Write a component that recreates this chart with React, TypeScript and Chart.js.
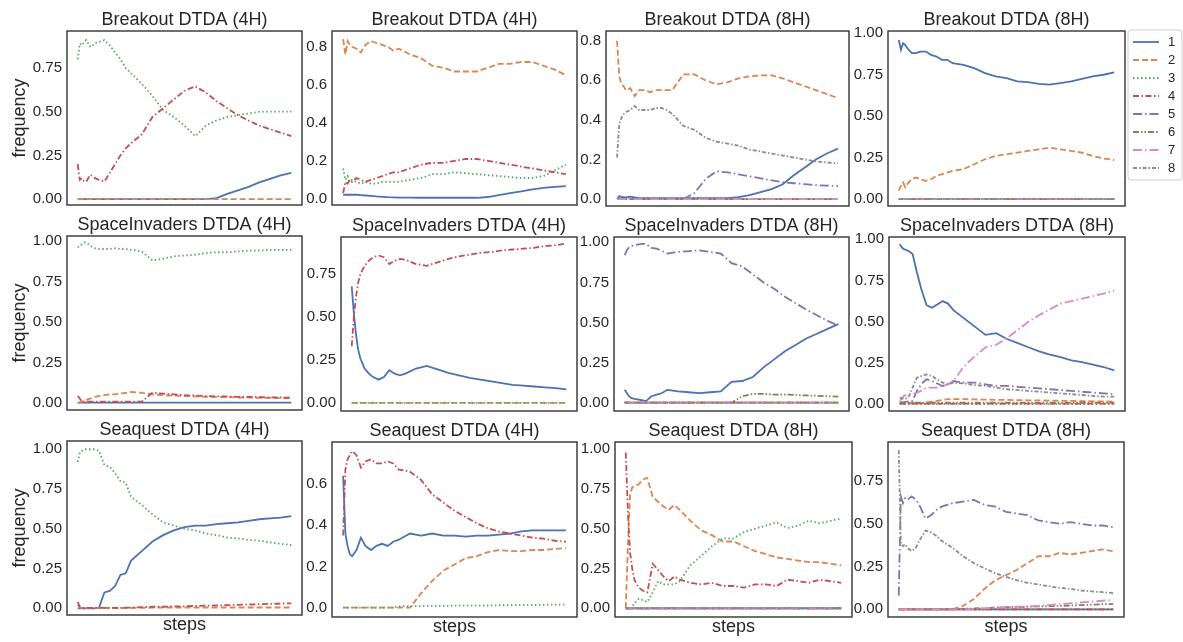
import React, { useEffect, useRef } from 'react';
import { Chart, registerables } from 'chart.js';

Chart.register(...registerables);

const W = 1183;
const H = 642;
const FONT = '"Liberation Sans", Arial, sans-serif';
const TEXT = '#262626';
const FRAME = '#333333';

// shared step grid (fraction of training steps)
const STEPS = [0, 0.01, 0.02, 0.03, 0.04, 0.06, 0.08, 0.1, 0.125, 0.15, 0.175, 0.2, 0.225, 0.25, 0.3, 0.35, 0.4, 0.45, 0.5, 0.55, 0.6, 0.65, 0.7, 0.75, 0.8, 0.85, 0.9, 0.95, 1];

const HEAD_LABELS = ['1', '2', '3', '4', '5', '6', '7', '8'];
const COLORS = ['#4C72B0', '#DD8452', '#55A868', '#C44E52', '#8172B3', '#937860', '#DA8BC3', '#8C8C8C'];
const DASHES = [[], [6, 3], [1.5, 2.5], [6, 2.5, 1.5, 2.5], [9, 3, 1.5, 3], [6, 2, 1.5, 2, 1.5, 2], [9, 3, 1.5, 3], [4, 2, 1.5, 2]];

const ZERO = [0, 0];

// Breakout DTDA (4H) - panel A
const BO4A_1 = [0, 0, 0, 0, 0, 0, 0, 0, 0, 0, 0, 0, 0, 0, 0, 0, 0, 0, 0, 0, 0, 0.005, 0.03, 0.05, 0.07, 0.095, 0.115, 0.135, 0.15];
const BO4A_3 = [0.80, 0.89, 0.88, 0.90, 0.91, 0.87, 0.89, 0.90, 0.91, 0.88, 0.84, 0.80, 0.75, 0.72, 0.66, 0.59, 0.51, 0.47, 0.42, 0.36, 0.42, 0.45, 0.47, 0.48, 0.49, 0.50, 0.50, 0.50, 0.50];
const BO4A_4 = [0.20, 0.11, 0.12, 0.10, 0.10, 0.14, 0.12, 0.11, 0.10, 0.15, 0.20, 0.25, 0.29, 0.32, 0.37, 0.47, 0.52, 0.57, 0.62, 0.645, 0.61, 0.56, 0.52, 0.48, 0.45, 0.42, 0.40, 0.38, 0.36];

// Breakout DTDA (4H) - panel B
const BO4B_1 = [0.02, 0.022, 0.022, 0.022, 0.022, 0.022, 0.02, 0.018, 0.016, 0.013, 0.011, 0.009, 0.008, 0.007, 0.007, 0.006, 0.006, 0.006, 0.006, 0.006, 0.006, 0.01, 0.02, 0.03, 0.04, 0.05, 0.058, 0.063, 0.067];
const BO4B_2 = [0.84, 0.76, 0.83, 0.81, 0.80, 0.79, 0.77, 0.81, 0.83, 0.82, 0.81, 0.80, 0.78, 0.79, 0.76, 0.74, 0.70, 0.69, 0.67, 0.67, 0.67, 0.69, 0.71, 0.71, 0.72, 0.72, 0.70, 0.68, 0.65];
const BO4B_3 = [0.16, 0.10, 0.12, 0.09, 0.10, 0.09, 0.08, 0.09, 0.08, 0.08, 0.09, 0.09, 0.09, 0.09, 0.10, 0.11, 0.13, 0.13, 0.14, 0.135, 0.13, 0.125, 0.12, 0.115, 0.11, 0.11, 0.12, 0.15, 0.18];
const BO4B_4 = [0.03, 0.09, 0.08, 0.10, 0.09, 0.11, 0.10, 0.09, 0.10, 0.11, 0.12, 0.13, 0.14, 0.14, 0.16, 0.18, 0.19, 0.19, 0.20, 0.21, 0.21, 0.20, 0.19, 0.18, 0.17, 0.16, 0.15, 0.14, 0.13];

// Breakout DTDA (8H) - panel A
const BO8A_1 = [0, 0.015, 0.01, 0.01, 0.008, 0.012, 0.008, 0.005, 0.005, 0.005, 0.005, 0.005, 0.005, 0.005, 0.005, 0.005, 0.005, 0.005, 0.005, 0.01, 0.02, 0.035, 0.05, 0.075, 0.12, 0.16, 0.20, 0.23, 0.255];
const BO8A_2 = [0.80, 0.62, 0.58, 0.57, 0.55, 0.56, 0.52, 0.55, 0.55, 0.54, 0.55, 0.55, 0.55, 0.55, 0.63, 0.63, 0.60, 0.58, 0.59, 0.61, 0.62, 0.625, 0.625, 0.61, 0.59, 0.57, 0.55, 0.53, 0.51];
const BO8A_5 = [0, 0, 0, 0, 0, 0, 0, 0, 0, 0, 0, 0, 0, 0, 0, 0.03, 0.10, 0.14, 0.135, 0.125, 0.115, 0.105, 0.095, 0.085, 0.08, 0.075, 0.07, 0.068, 0.065];
const BO8A_8 = [0.21, 0.38, 0.41, 0.43, 0.44, 0.45, 0.47, 0.45, 0.45, 0.45, 0.46, 0.46, 0.45, 0.43, 0.37, 0.35, 0.31, 0.29, 0.28, 0.27, 0.25, 0.24, 0.23, 0.22, 0.21, 0.20, 0.19, 0.185, 0.18];

// Breakout DTDA (8H) - panel B
const BO8B_1 = [0.96, 0.90, 0.94, 0.93, 0.91, 0.88, 0.88, 0.89, 0.89, 0.87, 0.86, 0.84, 0.84, 0.82, 0.81, 0.79, 0.76, 0.74, 0.73, 0.71, 0.705, 0.695, 0.69, 0.70, 0.71, 0.725, 0.74, 0.75, 0.765];
const BO8B_2 = [0.05, 0.08, 0.10, 0.07, 0.09, 0.12, 0.13, 0.12, 0.11, 0.12, 0.14, 0.15, 0.16, 0.17, 0.18, 0.21, 0.24, 0.26, 0.27, 0.28, 0.29, 0.30, 0.31, 0.30, 0.29, 0.28, 0.26, 0.245, 0.235];

// SpaceInvaders DTDA (4H) - panel A
const SI4A_1 = [0.005, 0.005];
const SI4A_2 = [0, 0.005, 0.01, 0.015, 0.02, 0.03, 0.04, 0.045, 0.05, 0.055, 0.055, 0.06, 0.065, 0.07, 0.065, 0.055, 0.05, 0.048, 0.045, 0.043, 0.04, 0.04, 0.038, 0.036, 0.035, 0.034, 0.033, 0.032, 0.03];
const SI4A_3 = [0.96, 0.97, 0.98, 0.99, 0.99, 0.97, 0.955, 0.95, 0.95, 0.95, 0.955, 0.95, 0.95, 0.945, 0.935, 0.88, 0.89, 0.905, 0.91, 0.915, 0.925, 0.93, 0.93, 0.935, 0.94, 0.94, 0.945, 0.945, 0.945];
const SI4A_4 = [0.045, 0.03, 0.01, 0.01, 0.01, 0.01, 0.01, 0.01, 0.01, 0.01, 0.01, 0.01, 0.01, 0.01, 0.01, 0.065, 0.06, 0.055, 0.05, 0.048, 0.045, 0.043, 0.042, 0.04, 0.04, 0.038, 0.037, 0.036, 0.035];

// SpaceInvaders DTDA (4H) - panel B
const SI4B_1 = [0.68, 0.52, 0.40, 0.31, 0.26, 0.20, 0.17, 0.15, 0.135, 0.15, 0.19, 0.17, 0.16, 0.17, 0.20, 0.215, 0.195, 0.175, 0.16, 0.145, 0.135, 0.125, 0.115, 0.105, 0.10, 0.095, 0.09, 0.085, 0.078];
const SI4B_4 = [0.33, 0.50, 0.62, 0.70, 0.75, 0.80, 0.83, 0.85, 0.86, 0.85, 0.81, 0.83, 0.84, 0.835, 0.81, 0.80, 0.82, 0.84, 0.855, 0.865, 0.875, 0.88, 0.89, 0.895, 0.90, 0.905, 0.915, 0.92, 0.93];

// SpaceInvaders DTDA (8H) - panel A
const SI8A_1 = [0.08, 0.06, 0.04, 0.03, 0.025, 0.02, 0.015, 0.01, 0.04, 0.05, 0.06, 0.08, 0.075, 0.07, 0.065, 0.06, 0.065, 0.07, 0.13, 0.135, 0.16, 0.22, 0.27, 0.32, 0.36, 0.40, 0.43, 0.46, 0.49];
const SI8A_5 = [0.92, 0.95, 0.97, 0.975, 0.98, 0.985, 0.99, 0.99, 0.965, 0.96, 0.945, 0.93, 0.935, 0.94, 0.945, 0.95, 0.94, 0.93, 0.87, 0.85, 0.80, 0.75, 0.71, 0.66, 0.62, 0.58, 0.545, 0.51, 0.48];
const SI8A_6 = [0, 0, 0, 0, 0, 0, 0, 0, 0, 0, 0, 0, 0, 0, 0, 0, 0, 0, 0, 0.04, 0.055, 0.055, 0.05, 0.05, 0.048, 0.045, 0.043, 0.04, 0.038];

// SpaceInvaders DTDA (8H) - panel B
const SI8B_1 = [0.97, 0.95, 0.94, 0.935, 0.93, 0.91, 0.80, 0.70, 0.60, 0.585, 0.605, 0.625, 0.61, 0.57, 0.52, 0.47, 0.42, 0.43, 0.395, 0.37, 0.345, 0.32, 0.30, 0.285, 0.265, 0.255, 0.24, 0.225, 0.205];
const SI8B_2 = [0.005, 0.005, 0.005, 0.005, 0.005, 0.005, 0.005, 0.005, 0.01, 0.015, 0.02, 0.025, 0.03, 0.03, 0.03, 0.028, 0.027, 0.026, 0.025, 0.024, 0.023, 0.022, 0.021, 0.02, 0.019, 0.018, 0.017, 0.016, 0.015];
const SI8B_4 = [0.003, 0.003];
const SI8B_5 = [0.01, 0.01, 0.01, 0.015, 0.015, 0.02, 0.08, 0.12, 0.15, 0.14, 0.125, 0.11, 0.12, 0.14, 0.13, 0.13, 0.12, 0.11, 0.11, 0.105, 0.10, 0.095, 0.09, 0.085, 0.08, 0.075, 0.07, 0.065, 0.06];
const SI8B_6 = [0.008, 0.008];
const SI8B_7 = [0.02, 0.035, 0.05, 0.055, 0.06, 0.06, 0.07, 0.08, 0.10, 0.10, 0.10, 0.11, 0.12, 0.14, 0.23, 0.29, 0.345, 0.36, 0.40, 0.45, 0.50, 0.54, 0.575, 0.61, 0.625, 0.64, 0.655, 0.67, 0.69];
const SI8B_8 = [0.04, 0.035, 0.03, 0.035, 0.04, 0.10, 0.16, 0.17, 0.18, 0.17, 0.15, 0.13, 0.12, 0.13, 0.125, 0.115, 0.11, 0.10, 0.09, 0.085, 0.08, 0.075, 0.07, 0.065, 0.06, 0.055, 0.05, 0.045, 0.045];

// Seaquest DTDA (4H) - panel A
const SQ4A_1 = [0, 0, 0, 0, 0, 0, 0, 0.005, 0.10, 0.11, 0.14, 0.21, 0.22, 0.30, 0.36, 0.42, 0.46, 0.49, 0.51, 0.52, 0.52, 0.53, 0.535, 0.54, 0.55, 0.56, 0.565, 0.57, 0.58];
const SQ4A_2 = [0.02, 0.005, 0.002, 0.002, 0.002, 0.002, 0.002, 0.002, 0.002, 0.002, 0.002, 0.002, 0.002, 0.002, 0.003, 0.004, 0.005, 0.005, 0.005, 0.005, 0.005, 0.005, 0.005, 0.005, 0.005, 0.005, 0.005, 0.005, 0.005];
const SQ4A_3 = [0.92, 0.98, 0.99, 1.00, 1.00, 1.00, 1.00, 0.99, 0.90, 0.89, 0.85, 0.80, 0.79, 0.70, 0.65, 0.59, 0.54, 0.52, 0.50, 0.49, 0.47, 0.46, 0.445, 0.44, 0.43, 0.425, 0.415, 0.405, 0.398];
const SQ4A_4 = [0.04, 0.01, 0.005, 0.003, 0.003, 0.003, 0.003, 0.003, 0.003, 0.003, 0.003, 0.003, 0.004, 0.005, 0.007, 0.01, 0.01, 0.012, 0.013, 0.015, 0.017, 0.018, 0.02, 0.022, 0.024, 0.026, 0.028, 0.03, 0.031];

// Seaquest DTDA (4H) - panel B
const SQ4B_1 = [0.64, 0.36, 0.30, 0.26, 0.25, 0.28, 0.34, 0.30, 0.28, 0.30, 0.31, 0.30, 0.32, 0.33, 0.36, 0.35, 0.36, 0.35, 0.35, 0.345, 0.35, 0.35, 0.355, 0.36, 0.37, 0.375, 0.375, 0.375, 0.375];
const SQ4B_2 = [0, 0, 0, 0, 0, 0, 0, 0, 0, 0, 0, 0, 0, 0, 0, 0.07, 0.13, 0.18, 0.21, 0.24, 0.25, 0.27, 0.28, 0.275, 0.275, 0.28, 0.28, 0.285, 0.29];
const SQ4B_3 = [0, 0, 0, 0, 0, 0, 0, 0, 0, 0, 0, 0, 0, 0.008, 0.008, 0.008, 0.009, 0.009, 0.01, 0.01, 0.01, 0.011, 0.012, 0.012, 0.013, 0.013, 0.014, 0.015, 0.015];
const SQ4B_4 = [0.35, 0.67, 0.72, 0.74, 0.76, 0.74, 0.68, 0.71, 0.72, 0.70, 0.70, 0.71, 0.70, 0.67, 0.66, 0.62, 0.55, 0.51, 0.47, 0.44, 0.41, 0.385, 0.37, 0.36, 0.35, 0.34, 0.335, 0.325, 0.32];

// Seaquest DTDA (8H) - panel A
const SQ8A_2 = [0.0, 0.40, 0.72, 0.76, 0.77, 0.78, 0.81, 0.82, 0.70, 0.67, 0.64, 0.62, 0.65, 0.62, 0.55, 0.49, 0.46, 0.42, 0.42, 0.39, 0.36, 0.34, 0.32, 0.31, 0.30, 0.29, 0.29, 0.28, 0.27];
const SQ8A_3 = [0, 0, 0, 0.01, 0.03, 0.06, 0.05, 0.04, 0.10, 0.17, 0.15, 0.15, 0.15, 0.17, 0.27, 0.33, 0.39, 0.44, 0.44, 0.48, 0.50, 0.52, 0.54, 0.505, 0.52, 0.55, 0.535, 0.55, 0.565];
const SQ8A_4 = [0.98, 0.60, 0.35, 0.25, 0.18, 0.13, 0.11, 0.10, 0.28, 0.24, 0.20, 0.17, 0.20, 0.18, 0.16, 0.15, 0.16, 0.14, 0.14, 0.13, 0.15, 0.15, 0.14, 0.18, 0.17, 0.16, 0.18, 0.17, 0.16];

// Seaquest DTDA (8H) - panel B
const SQ8B_2 = [0, 0, 0, 0, 0, 0, 0, 0, 0, 0, 0, 0, 0, 0, 0.02, 0.06, 0.12, 0.17, 0.20, 0.23, 0.27, 0.31, 0.31, 0.33, 0.32, 0.33, 0.34, 0.35, 0.34];
const SQ8B_5 = [0.08, 0.66, 0.62, 0.65, 0.64, 0.66, 0.64, 0.60, 0.53, 0.55, 0.58, 0.60, 0.61, 0.62, 0.63, 0.64, 0.61, 0.60, 0.57, 0.56, 0.55, 0.52, 0.51, 0.50, 0.51, 0.50, 0.49, 0.49, 0.48];
const SQ8B_6 = [0, 0, 0, 0, 0, 0, 0, 0, 0, 0, 0, 0, 0, 0, 0.003, 0.005, 0.007, 0.01, 0.012, 0.013, 0.015, 0.017, 0.018, 0.02, 0.022, 0.025, 0.027, 0.03, 0.03];
const SQ8B_7 = [0, 0, 0, 0, 0, 0, 0, 0, 0, 0, 0, 0, 0, 0, 0, 0, 0.005, 0.01, 0.012, 0.015, 0.017, 0.02, 0.025, 0.03, 0.035, 0.04, 0.045, 0.05, 0.055];
const SQ8B_8 = [0.93, 0.38, 0.37, 0.38, 0.36, 0.34, 0.36, 0.41, 0.46, 0.45, 0.43, 0.40, 0.38, 0.36, 0.31, 0.27, 0.24, 0.21, 0.19, 0.17, 0.155, 0.145, 0.135, 0.125, 0.12, 0.11, 0.105, 0.10, 0.095];

// y tick sets
const TICKS_Q = [0, 0.25, 0.5, 0.75];
const TICKS_Q1 = [0, 0.25, 0.5, 0.75, 1];
const TICKS_F8 = [0, 0.2, 0.4, 0.6, 0.8];
const TICKS_F6 = [0, 0.2, 0.4, 0.6];

const TITLES = [
  'Breakout DTDA (4H)', 'Breakout DTDA (4H)', 'Breakout DTDA (8H)', 'Breakout DTDA (8H)',
  'SpaceInvaders DTDA (4H)', 'SpaceInvaders DTDA (4H)', 'SpaceInvaders DTDA (8H)', 'SpaceInvaders DTDA (8H)',
  'Seaquest DTDA (4H)', 'Seaquest DTDA (4H)', 'Seaquest DTDA (8H)', 'Seaquest DTDA (8H)',
];

const SERIES = [
  [BO4A_1, ZERO, BO4A_3, BO4A_4],
  [BO4B_1, BO4B_2, BO4B_3, BO4B_4],
  [BO8A_1, BO8A_2, ZERO, ZERO, BO8A_5, ZERO, ZERO, BO8A_8],
  [BO8B_1, BO8B_2, ZERO, ZERO, ZERO, ZERO, ZERO, ZERO],
  [SI4A_1, SI4A_2, SI4A_3, SI4A_4],
  [SI4B_1, ZERO, ZERO, SI4B_4],
  [SI8A_1, ZERO, ZERO, ZERO, SI8A_5, SI8A_6, ZERO, ZERO],
  [SI8B_1, SI8B_2, ZERO, SI8B_4, SI8B_5, SI8B_6, SI8B_7, SI8B_8],
  [SQ4A_1, SQ4A_2, SQ4A_3, SQ4A_4],
  [SQ4B_1, SQ4B_2, SQ4B_3, SQ4B_4],
  [ZERO, SQ8A_2, SQ8A_3, SQ8A_4, ZERO, ZERO, ZERO, ZERO],
  [ZERO, SQ8B_2, ZERO, ZERO, SQ8B_5, SQ8B_6, SQ8B_7, SQ8B_8],
];

const Y_RANGES = [
  [-0.034, 0.962], [-0.032, 0.883], [-0.035, 0.849], [-0.042, 1.014],
  [-0.041, 1.03], [-0.048, 0.968], [-0.052, 1.033], [-0.042, 1.014],
  [-0.042, 1.052], [-0.045, 0.804], [-0.055, 1.046], [-0.045, 0.978],
];

const Y_TICKS = [
  TICKS_Q, TICKS_F8, TICKS_F8, TICKS_Q1,
  TICKS_Q1, TICKS_Q, TICKS_Q1, TICKS_Q1,
  TICKS_Q1, TICKS_F6, TICKS_Q1, TICKS_Q,
];

const Y_DECIMALS = [2, 1, 1, 2, 2, 2, 2, 2, 2, 1, 2, 2];

// layout: plot box [left, top, right, bottom] in page pixels
const BOXES = [
  [67, 31, 302, 205], [332, 31, 577, 205], [606, 31, 849, 206], [888, 31, 1125, 206],
  [67, 236, 302, 410], [341, 237, 577, 411], [614, 237, 849, 411], [889, 237, 1125, 411],
  [67, 441, 302, 615], [332, 442, 577, 617], [615, 442, 852, 617], [888, 442, 1124, 617],
];

const AXW = 45;

function toPoints(values: number[]) {
  const useGrid = values.length === STEPS.length;
  return values.map((v, i) => ({ x: useGrid ? STEPS[i] : i / (values.length - 1), y: v }));
}

function drawLegend(ctx: CanvasRenderingContext2D) {
  const x0 = 1128, y0 = 30, x1 = 1182, y1 = 180, r = 3;
  ctx.save();
  ctx.beginPath();
  ctx.moveTo(x0 + r, y0);
  ctx.lineTo(x1 - r, y0);
  ctx.quadraticCurveTo(x1, y0, x1, y0 + r);
  ctx.lineTo(x1, y1 - r);
  ctx.quadraticCurveTo(x1, y1, x1 - r, y1);
  ctx.lineTo(x0 + r, y1);
  ctx.quadraticCurveTo(x0, y1, x0, y1 - r);
  ctx.lineTo(x0, y0 + r);
  ctx.quadraticCurveTo(x0, y0, x0 + r, y0);
  ctx.closePath();
  ctx.fillStyle = '#ffffff';
  ctx.fill();
  ctx.strokeStyle = '#d0d0d0';
  ctx.lineWidth = 1;
  ctx.setLineDash([]);
  ctx.stroke();
  ctx.font = `13px ${FONT}`;
  ctx.textAlign = 'left';
  ctx.textBaseline = 'middle';
  HEAD_LABELS.forEach((lab, i) => {
    const y = 42 + i * 18;
    ctx.beginPath();
    ctx.strokeStyle = COLORS[i];
    ctx.lineWidth = 1.8;
    ctx.setLineDash(DASHES[i]);
    ctx.moveTo(1133, y);
    ctx.lineTo(1159, y);
    ctx.stroke();
    ctx.setLineDash([]);
    ctx.fillStyle = TEXT;
    ctx.fillText(lab, 1168, y + 0.5);
  });
  ctx.restore();
}

function Panel({ idx }: { idx: number }) {
  const ref = useRef<HTMLCanvasElement | null>(null);
  useEffect(() => {
    const canvas = ref.current;
    if (!canvas) return;
    const [l, t, r, b] = BOXES[idx];
    const [ymin, ymax] = Y_RANGES[idx];
    const ticks = Y_TICKS[idx];
    const dec = Y_DECIMALS[idx];
    const col = idx % 4;
    const row = Math.floor(idx / 4);
    const decor = {
      id: 'decor' + idx,
      afterDraw(chart: any) {
        const ctx = chart.ctx as CanvasRenderingContext2D;
        const a = chart.chartArea;
        ctx.save();
        ctx.setLineDash([]);
        ctx.strokeStyle = FRAME;
        ctx.lineWidth = 1.4;
        ctx.strokeRect(a.left, a.top, a.right - a.left, a.bottom - a.top);
        ctx.fillStyle = TEXT;
        ctx.font = `18px ${FONT}`;
        ctx.textAlign = 'center';
        ctx.textBaseline = 'alphabetic';
        const cx = (a.left + a.right) / 2;
        ctx.fillText(TITLES[idx], cx, a.top - 6);
        if (row === 2) {
          ctx.fillText('steps', cx, a.bottom + 15);
        }
        if (col === 0) {
          ctx.save();
          ctx.translate(20, (a.top + a.bottom) / 2);
          ctx.rotate(-Math.PI / 2);
          ctx.textBaseline = 'middle';
          ctx.fillText('frequency', 0, 0);
          ctx.restore();
        }
        if (idx === 3) drawLegend(ctx);
        ctx.restore();
      },
    };
    const chart = new Chart(canvas, {
      type: 'line',
      data: {
        datasets: SERIES[idx].map((s, k) => ({
          label: HEAD_LABELS[k],
          data: toPoints(s),
          borderColor: COLORS[k],
          backgroundColor: COLORS[k],
          borderDash: DASHES[k],
          borderWidth: 1.8,
          pointRadius: 0,
          fill: false,
          tension: 0,
          order: -k,
        })),
      },
      options: {
        responsive: false,
        animation: false,
        devicePixelRatio: 1,
        events: [],
        layout: { padding: { left: l - AXW, top: t, right: W - r, bottom: H - b } },
        plugins: { legend: { display: false }, tooltip: { enabled: false }, title: { display: false } },
        scales: {
          x: { type: 'linear', min: -0.05, max: 1.05, display: false },
          y: {
            type: 'linear',
            min: ymin,
            max: ymax,
            grid: { display: false, drawTicks: false },
            border: { display: false },
            ticks: {
              padding: 5,
              color: TEXT,
              font: { family: FONT, size: 15 },
              callback: (v: any) => Number(v).toFixed(dec),
            },
            afterBuildTicks: (axis: any) => {
              axis.ticks = ticks.map((v) => ({ value: v }));
            },
            afterFit: (axis: any) => {
              axis.width = AXW;
            },
          },
        },
      },
      plugins: [decor],
    } as any);
    return () => chart.destroy();
  }, [idx]);
  return (
    <canvas
      ref={ref}
      width={W}
      height={H}
      style={{ position: 'absolute', left: 0, top: 0, width: W, height: H }}
    />
  );
}

export default function App() {
  return (
    <div style={{ position: 'absolute', left: 0, top: 0, width: W, height: H, background: '#ffffff', overflow: 'hidden' }}>
      {TITLES.map((_, i) => (
        <Panel key={i} idx={i} />
      ))}
    </div>
  );
}
